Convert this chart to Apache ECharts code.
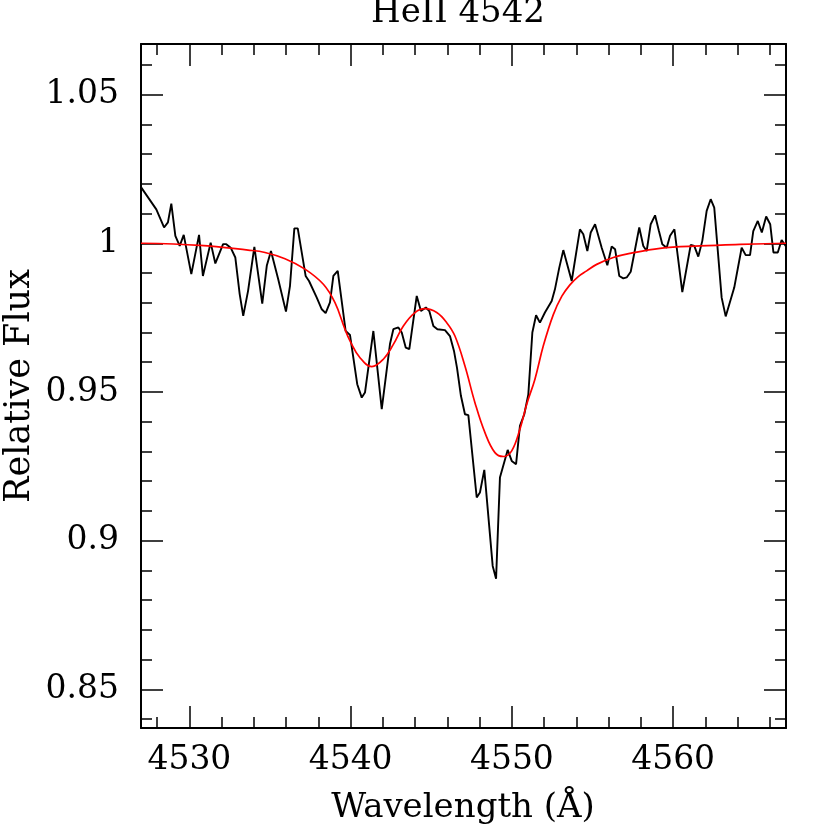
<!DOCTYPE html>
<html>
<head>
<meta charset="utf-8">
<script src="https://cdn.jsdelivr.net/npm/echarts@6/dist/echarts.min.js"></script>
<style>
html, body { margin: 0; padding: 0; background: #fff; }
#chart { width: 830px; height: 830px; }
</style>
</head>
<body>
<div id="chart"></div>
<script>
// observed spectrum (wavelength, relative flux)
var obsWave = [4527.02, 4527.95, 4528.43, 4528.67, 4528.88, 4529.13, 4529.40, 4529.65, 4530.12, 4530.60,
	4530.84, 4531.32, 4531.61, 4532.09, 4532.29, 4532.56, 4532.85, 4533.12, 4533.34, 4533.64,
	4534.03, 4534.52, 4534.80, 4535.06, 4535.51, 4535.99, 4536.24, 4536.51, 4536.72, 4537.21,
	4537.42, 4537.90, 4538.21, 4538.45, 4538.72, 4538.93, 4539.20, 4539.69, 4539.96, 4540.41,
	4540.69, 4540.89, 4541.41, 4541.93, 4542.44, 4542.65, 4542.96, 4543.17, 4543.42, 4543.64,
	4544.10, 4544.36, 4544.67, 4544.88, 4545.13, 4545.38, 4545.85, 4546.16, 4546.41, 4546.60,
	4546.84, 4547.09, 4547.30, 4547.82, 4548.02, 4548.29, 4548.81, 4549.02, 4549.26, 4549.74,
	4549.99, 4550.26, 4550.50, 4550.77, 4551.02, 4551.27, 4551.50, 4551.74, 4552.05, 4552.47,
	4552.67, 4552.94, 4553.19, 4553.71, 4554.22, 4554.43, 4554.68, 4554.89, 4555.16, 4555.57,
	4555.92, 4556.19, 4556.40, 4556.66, 4556.91, 4557.12, 4557.37, 4557.64, 4557.90, 4558.15,
	4558.36, 4558.61, 4558.88, 4559.12, 4559.33, 4559.60, 4559.81, 4560.08, 4560.57, 4561.09,
	4561.31, 4561.56, 4561.81, 4562.08, 4562.33, 4562.55, 4563.01, 4563.26, 4563.79, 4564.25,
	4564.50, 4564.77, 4564.97, 4565.25, 4565.50, 4565.77, 4566.02, 4566.22, 4566.49, 4566.73,
	4566.98];
var obsFlux = [1.0187, 1.0114, 1.0053, 1.0070, 1.0133, 1.0025, 0.9991, 1.0028, 0.9896, 1.0028,
	0.9890, 1.0002, 0.9932, 0.9997, 0.9997, 0.9985, 0.9952, 0.9829, 0.9756, 0.9840,
	0.9988, 0.9797, 0.9924, 0.9974, 0.9879, 0.9770, 0.9857, 1.0050, 1.0050, 0.9890,
	0.9873, 0.9817, 0.9778, 0.9765, 0.9801, 0.9890, 0.9907, 0.9705, 0.9692, 0.9526,
	0.9481, 0.9498, 0.9705, 0.9442, 0.9661, 0.9711, 0.9717, 0.9700, 0.9649, 0.9644,
	0.9823, 0.9772, 0.9784, 0.9772, 0.9722, 0.9711, 0.9708, 0.9688, 0.9638, 0.9580,
	0.9487, 0.9425, 0.9422, 0.9145, 0.9162, 0.9238, 0.8915, 0.8872, 0.9212, 0.9305,
	0.9268, 0.9257, 0.9386, 0.9425, 0.9492, 0.9700, 0.9758, 0.9733, 0.9767, 0.9806,
	0.9845, 0.9918, 0.9977, 0.9873, 1.0047, 1.0030, 0.9974, 1.0036, 1.0064, 0.9985,
	0.9926, 0.9989, 0.9980, 0.9890, 0.9882, 0.9885, 0.9904, 0.9980, 1.0053, 0.9991,
	0.9974, 1.0064, 1.0094, 1.0041, 0.9997, 0.9985, 1.0025, 1.0047, 0.9836, 0.9994,
	0.9991, 0.9955, 1.0008, 1.0109, 1.0148, 1.0120, 0.9817, 0.9754, 0.9851, 0.9985,
	0.9960, 0.9960, 1.0041, 1.0075, 1.0036, 1.0090, 1.0064, 0.9969, 0.9969, 1.0011,
	0.9991];

// model fit
var fitWave = [4527.0, 4530.66, 4533.64, 4534.69, 4535.93, 4537.17, 4538.31, 4539.03, 4539.65, 4539.96,
	4540.57, 4541.31, 4542.03, 4542.65, 4543.27, 4543.99, 4544.61, 4545.34, 4545.96, 4546.47,
	4547.09, 4547.71, 4548.33, 4548.95, 4549.47, 4549.99, 4550.50, 4550.92, 4551.43, 4551.95,
	4552.57, 4553.10, 4553.60, 4554.10, 4554.64, 4555.26, 4556.29, 4557.33, 4559.19, 4561.67,
	4564.15, 4567.0];
var fitFlux = [1.0000, 0.9993, 0.9977, 0.9969, 0.9948, 0.9913, 0.9862, 0.9800, 0.9711, 0.9672,
	0.9616, 0.9585, 0.9610, 0.9660, 0.9722, 0.9767, 0.9780, 0.9767, 0.9733, 0.9688,
	0.9587, 0.9464, 0.9363, 0.9296, 0.9283, 0.9302, 0.9375, 0.9459, 0.9543, 0.9655,
	0.9760, 0.9822, 0.9860, 0.9887, 0.9907, 0.9929, 0.9952, 0.9966, 0.9983, 0.9991,
	0.9996, 1.0000];

// ticks
var xMajor = [4530, 4540, 4550, 4560];
var xMinor = [4528, 4530, 4532, 4534, 4536, 4538, 4540, 4542, 4544, 4546, 4548, 4550,
	4552, 4554, 4556, 4558, 4560, 4562, 4564, 4566];
var yMajor = [0.85, 0.9, 0.95, 1, 1.05];
var yMinor = [0.84, 0.85, 0.86, 0.87, 0.88, 0.89, 0.9, 0.91, 0.92, 0.93, 0.94, 0.95, 0.96,
	0.97, 0.98, 0.99, 1, 1.01, 1.02, 1.03, 1.04, 1.05, 1.06];

var xMin = 4527, xMax = 4567;
var yMin = 0.837, yMax = 1.067;

var fontName = "DejaVu Serif";

function zip(a, b) {
	var out = [];
	for (var i = 0; i < a.length; i++) out.push([a[i], b[i]]);
	return out;
}

// one axis: ticks from a list, labels optional
function makeAxis(pos, min, max, ticks, len, withLabel) {
	return {
		type: "value",
		position: pos,
		min: min,
		max: max,
		axisLine: { show: withLabel, lineStyle: { color: "#000", width: 2 } },
		axisTick: {
			show: true,
			inside: true,
			length: len,
			customValues: ticks,
			lineStyle: { color: "#000", width: 1.5 }
		},
		axisLabel: {
			show: withLabel && (pos === "bottom" || pos === "left"),
			customValues: ticks,
			inside: false,
			margin: pos === "bottom" ? 16 : 22,
			color: "#000",
			fontFamily: fontName,
			fontSize: 33,
			formatter: function (v) {
				return String(v);
			}
		},
		splitLine: { show: false }
	};
}

var chart = echarts.init(document.getElementById("chart"));
chart.setOption({
	animation: false,
	backgroundColor: "#fff",
	grid: { left: 141, right: 44, top: 44, bottom: 102 },
	xAxis: [
		makeAxis("bottom", xMin, xMax, xMajor, 22, true),
		makeAxis("bottom", xMin, xMax, xMinor, 11, false),
		makeAxis("top", xMin, xMax, xMajor, 22, true),
		makeAxis("top", xMin, xMax, xMinor, 11, false)
	],
	yAxis: [
		makeAxis("left", yMin, yMax, yMajor, 22, true),
		makeAxis("left", yMin, yMax, yMinor, 11, false),
		makeAxis("right", yMin, yMax, yMajor, 22, true),
		makeAxis("right", yMin, yMax, yMinor, 11, false)
	],
	graphic: [
		{
			type: "text",
			x: 458,
			y: 13,
			style: {
				text: "HeII 4542",
				font: "34px 'DejaVu Serif'",
				fill: "#000",
				textAlign: "center",
				textVerticalAlign: "middle"
			}
		},
		{
			type: "text",
			x: 463,
			y: 808,
			style: {
				text: "Wavelength (Å)",
				font: "34px 'DejaVu Serif'",
				fill: "#000",
				textAlign: "center",
				textVerticalAlign: "middle"
			}
		},
		{
			type: "text",
			x: 20,
			y: 386,
			rotation: Math.PI / 2,
			style: {
				text: "Relative Flux",
				font: "35px 'DejaVu Serif'",
				fill: "#000",
				textAlign: "center",
				textVerticalAlign: "middle"
			}
		}
	],
	series: [
		{
			name: "observed",
			type: "line",
			xAxisIndex: 0,
			yAxisIndex: 0,
			data: zip(obsWave, obsFlux),
			showSymbol: false,
			clip: true,
			lineStyle: { color: "#000", width: 1.9 }
		},
		{
			name: "fit",
			type: "line",
			xAxisIndex: 0,
			yAxisIndex: 0,
			data: zip(fitWave, fitFlux),
			showSymbol: false,
			smooth: 0.4,
			clip: true,
			lineStyle: { color: "#ff0000", width: 1.7 }
		}
	]
});
</script>
</body>
</html>
